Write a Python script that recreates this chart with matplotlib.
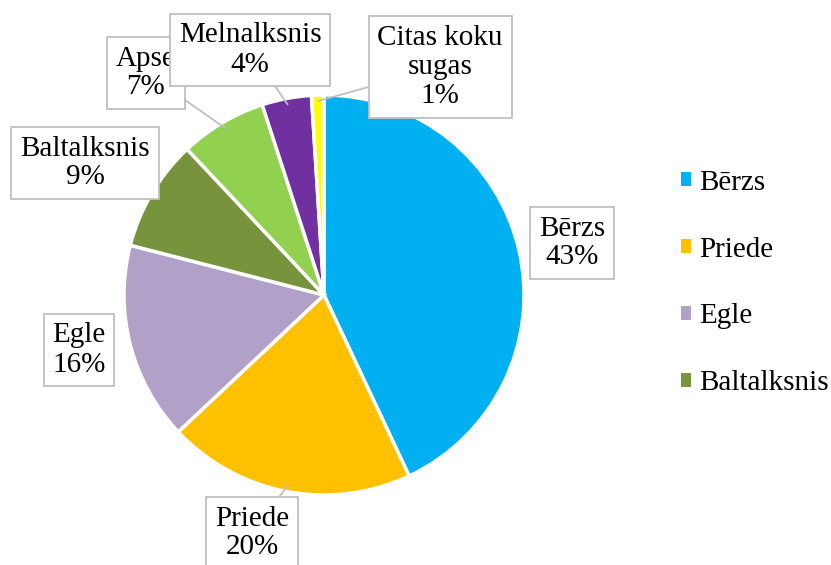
import numpy as np
import matplotlib
matplotlib.use("agg")
import matplotlib.pyplot as plt
from matplotlib.patches import Patch

species = ["Bērzs", "Priede", "Egle", "Baltalksnis", "Apse", "Melnalksnis", "Citas koku\nsugas"]
shares = [43, 20, 16, 9, 7, 4, 1]
colors = ["#00B0F0", "#FFC000", "#B1A0C7", "#77933C", "#92D050", "#7030A0", "#FFFF00"]

plt.rcParams["font.family"] = ["Liberation Serif", "DejaVu Serif"]

W, H = 831, 565
fig = plt.figure(figsize=(W / 100, H / 100), dpi=100)
ax = fig.add_axes([0, 0, 1, 1])

cx, cy, r = 324, H - 295, 200
wedges, _ = ax.pie(shares, colors=colors, startangle=90, counterclock=False,
                   center=(cx, cy), radius=r, frame=True,
                   wedgeprops=dict(edgecolor="white", linewidth=2.5))
ax.set_xlim(0, W)
ax.set_ylim(0, H)
ax.set_aspect("equal")
ax.axis("off")

# label box centres (pixels from top-left), and whether to draw a leader line
label_pos = [(572, 243), (252, 533), (79, 350), (85, 163), (146, 73), (250, 50), (440, 67)]
leader = [False, True, False, False, True, True, True]
zorders = [5, 5, 5, 5, 5, 6, 6]

fs = 21
for w, name, val, (px, py), ld, z in zip(wedges, species, shares, label_pos, leader, zorders):
    ang = np.deg2rad((w.theta1 + w.theta2) / 2)
    xy = (cx + r * 0.97 * np.cos(ang), cy + r * 0.97 * np.sin(ang))
    ax.annotate(f"{name}\n{val}%", xy=xy, xytext=(px, H - py),
                ha="center", va="center", fontsize=fs, linespacing=1.15, zorder=z,
                bbox=dict(boxstyle="square,pad=0.3", fc="white", ec="#BFBFBF", lw=1.3),
                arrowprops=dict(arrowstyle="-", color="#BFBFBF", lw=1.3,
                                shrinkA=0, shrinkB=0) if ld else None)

handles = [Patch(facecolor=c, edgecolor="none") for c in colors[:4]]
fig.legend(handles, species[:4], loc="center left", bbox_to_anchor=(681 / W, 1 - 283 / H),
           frameon=False, fontsize=fs, handlelength=0.34, handleheight=0.34,
           handletextpad=0.3, labelspacing=1.4, borderaxespad=0, borderpad=0)

fig.savefig("out.png", dpi=100)
